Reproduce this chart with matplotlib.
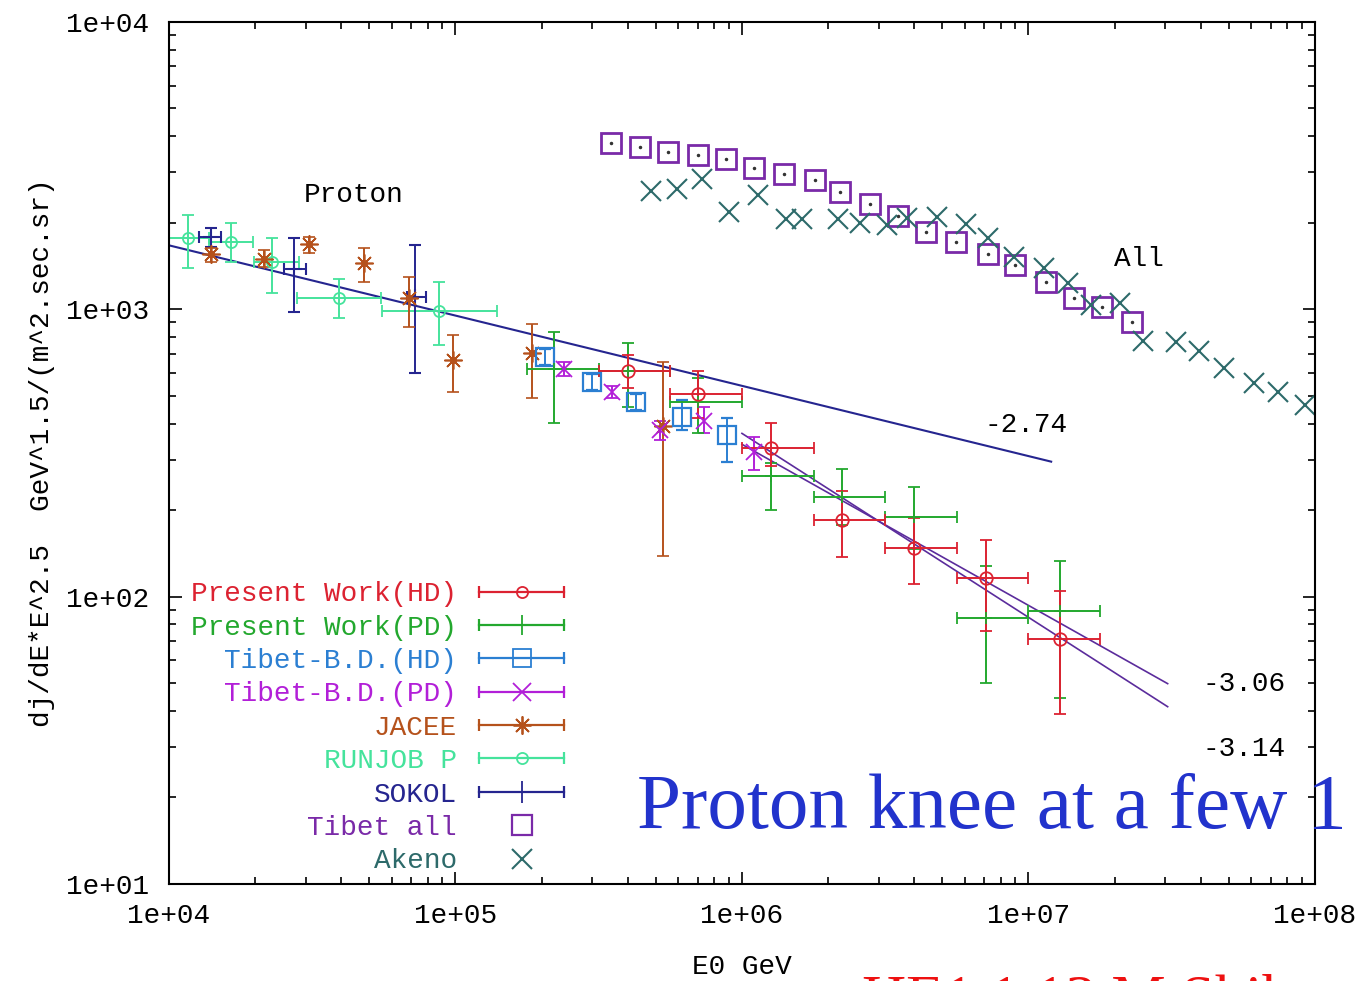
import matplotlib
matplotlib.use("Agg")
import matplotlib.pyplot as plt
import numpy as np
from matplotlib.lines import Line2D
from matplotlib.legend_handler import HandlerBase
from matplotlib.ticker import FuncFormatter, LogLocator, NullFormatter

# Present Work (HD)
hd_e = [4.0e5, 7.0e5, 1.26e6, 2.24e6, 4.0e6, 7.1e6, 1.29e7]
hd_e_lo = [3.16e5, 5.62e5, 1.0e6, 1.78e6, 3.16e6, 5.62e6, 1.0e7]
hd_e_hi = [5.62e5, 1.0e6, 1.78e6, 3.16e6, 5.62e6, 1.0e7, 1.78e7]
hd_f = [608, 509, 330, 185, 148, 116, 71.5]
hd_lo = [531, 417, 286, 137, 111, 76, 39]
hd_hi = [692, 612, 401, 234, 188, 157, 105]

# Present Work (PD)
pd_e = [2.2e5, 4.0e5, 7.0e5, 1.26e6, 2.24e6, 4.0e6, 7.1e6, 1.29e7]
pd_e_lo = [1.78e5, 3.16e5, 5.62e5, 1.0e6, 1.78e6, 3.16e6, 5.62e6, 1.0e7]
pd_e_hi = [3.16e5, 5.62e5, 1.0e6, 1.78e6, 3.16e6, 5.62e6, 1.0e7, 1.78e7]
pd_f = [618, 612, 474, 264, 223, 190, 84.5, 89]
pd_lo = [403, 456, 372, 200, 177, 147, 50, 44.5]
pd_hi = [832, 762, 575, 291, 279, 240, 128, 133]

# Tibet-B.D. (HD) and (PD)
bdh_e = [2.05e5, 2.99e5, 4.26e5, 6.17e5, 8.87e5]
bdh_f = [681, 557, 475, 421, 364]
bdh_lo = [638, 522, 445, 379, 293]
bdh_hi = [727, 594, 506, 482, 417]

bdp_e = [2.39e5, 3.51e5, 5.17e5, 7.36e5, 1.10e6]
bdp_f = [618, 514, 379, 410, 318]
bdp_lo = [585, 490, 350, 372, 275]
bdp_hi = [653, 540, 410, 456, 358]

# JACEE
jac_e = [1.40e4, 2.15e4, 3.09e4, 4.81e4, 6.90e4, 9.77e4, 1.85e5, 5.30e5]
jac_f = [1556, 1494, 1684, 1446, 1092, 664, 703, 391]
jac_lo = [1459, 1400, 1567, 1242, 865, 514, 493, 139]
jac_hi = [1633, 1606, 1782, 1633, 1291, 811, 887, 653]

# RUNJOB P
run_e = [1.17e4, 1.65e4, 2.29e4, 3.93e4, 8.73e4]
run_e_lo = [9.0e3, 1.38e4, 1.98e4, 2.81e4, 5.56e4]
run_e_hi = [1.38e4, 1.97e4, 2.85e4, 5.51e4, 1.40e5]
run_f = [1767, 1711, 1459, 1092, 984]
run_lo = [1389, 1459, 1138, 931, 750]
run_hi = [2128, 1995, 1767, 1273, 1242]

# SOKOL
sok_e = [1.40e4, 2.73e4, 7.24e4]
sok_e_lo = [1.27e4, 2.52e4, 6.75e4]
sok_e_hi = [1.52e4, 3.01e4, 7.92e4]
sok_f = [1782, 1377, 1102]
sok_lo = [1644, 977, 598]
sok_hi = [1914, 1767, 1671]

# Tibet all-particle
tib_e = [3.5e5, 4.4e5, 5.5e5, 7.0e5, 8.8e5, 1.1e6, 1.4e6, 1.8e6, 2.2e6, 2.8e6,
         3.5e6, 4.4e6, 5.6e6, 7.2e6, 9.0e6, 1.15e7, 1.44e7, 1.8e7, 2.3e7]
tib_f = [3790, 3660, 3520, 3440, 3330, 3100, 2950, 2810, 2560, 2320,
         2110, 1855, 1711, 1555, 1423, 1242, 1092, 1016, 901]

# Akeno all-particle
ake_e = [4.81e5, 5.93e5, 7.25e5, 9.0e5, 1.14e6, 1.43e6, 1.62e6, 2.17e6, 2.59e6,
         3.21e6, 3.78e6, 4.81e6, 6.03e6, 7.25e6, 8.93e6, 1.13e7, 1.37e7, 1.65e7,
         2.08e7, 2.50e7, 3.27e7, 3.93e7, 4.81e7, 6.12e7, 7.43e7, 9.22e7]
ake_f = [2576, 2618, 2838, 2178, 2495, 2061, 2061, 2061, 1995,
         1963, 2077, 2093, 1978, 1767, 1517, 1389, 1233, 1033,
         1049, 774, 768, 714, 623, 552, 514, 463]

# power-law fits (end points)
fit274_e, fit274_f = [1.0e4, 1.2e7], [1670, 295]
fit306_e, fit306_f = [1.0e6, 3.06e7], [339, 49.8]
fit314_e, fit314_f = [1.0e6, 3.06e7], [370, 41.4]

MONO = "Liberation Mono"
FS = 20

C_HD = "#dc2231"
C_PD = "#23a82e"
C_BDH = "#2b7fd2"
C_BDP = "#b21fd8"
C_JAC = "#b5521c"
C_RUN = "#45e39c"
C_SOK = "#25258f"
C_TIB = "#7a2aa8"
C_AKE = "#2d6a6a"
C_FIT = "#5b2c9c"


def err_series(ax, e, f, lo, hi, e_lo=None, e_hi=None, **kw):
    e, f = np.array(e), np.array(f)
    yerr = [f - np.array(lo), np.array(hi) - f]
    xerr = None
    if e_lo is not None:
        xerr = [e - np.array(e_lo), np.array(e_hi) - e]
    return ax.errorbar(e, f, yerr=yerr, xerr=xerr, capsize=4, elinewidth=1.4,
                       capthick=1.4, ls="none", **kw)


class CapLineHandler(HandlerBase):
    " Legend sample: horizontal bar with end caps and the marker in the middle. "

    def create_artists(self, legend, orig, xdescent, ydescent, width, height,
                       fontsize, trans):
        c = orig.get_color()
        y = height / 2 - ydescent
        x0, x1 = -xdescent, width - xdescent
        bar = Line2D([x0, x1], [y, y], color=c, lw=1.6)
        caps = Line2D([x0, x1], [y, y], color=c, ls="none", marker="|",
                      ms=9, mew=1.6)
        mk = Line2D([(x0 + x1) / 2], [y], color=c, ls="none",
                    marker=orig.get_marker(), ms=orig.get_markersize(),
                    mfc=orig.get_markerfacecolor(), mew=1.3)
        for a in (bar, caps, mk):
            a.set_transform(trans)
        return [bar, caps, mk]


fig = plt.figure(figsize=(13.62, 9.81), dpi=100)
ax = fig.add_axes([0.124, 0.0989, 0.8415, 0.8787])
ax.set_xscale("log")
ax.set_yscale("log")
ax.set_xlim(1e4, 1e8)
ax.set_ylim(1e1, 1e4)

ax.plot(fit274_e, fit274_f, color=C_SOK, lw=1.5)
ax.plot(fit306_e, fit306_f, color=C_FIT, lw=1.2)
ax.plot(fit314_e, fit314_f, color=C_FIT, lw=1.2)

err_series(ax, run_e, run_f, run_lo, run_hi, run_e_lo, run_e_hi,
           color=C_RUN, marker="o", ms=8, mfc="none", mew=1.3)
err_series(ax, sok_e, sok_f, sok_lo, sok_hi, sok_e_lo, sok_e_hi,
           color=C_SOK, marker="+", ms=12, mew=1.5)
err_series(ax, jac_e, jac_f, jac_lo, jac_hi,
           color=C_JAC, marker=(8, 2, 0), ms=13, mew=1.2)
ax.plot(jac_e, jac_f, ls="none", marker="o", ms=4, color="#d23010")
err_series(ax, bdh_e, bdh_f, bdh_lo, bdh_hi,
           color=C_BDH, marker="s", ms=13, mfc="none", mew=1.6)
err_series(ax, bdp_e, bdp_f, bdp_lo, bdp_hi,
           color=C_BDP, marker="x", ms=11, mew=1.3)
err_series(ax, pd_e, pd_f, pd_lo, pd_hi, pd_e_lo, pd_e_hi,
           color=C_PD, marker="+", ms=8, mew=1.3)
err_series(ax, hd_e, hd_f, hd_lo, hd_hi, hd_e_lo, hd_e_hi,
           color=C_HD, marker="o", ms=9, mfc="none", mew=1.3)

ax.plot(tib_e, tib_f, ls="none", marker="s", ms=14, mfc="none", mew=2.0,
        color=C_TIB)
ax.plot(tib_e, tib_f, ls="none", marker=".", ms=3, color="#333333")
ax.plot(ake_e, ake_f, ls="none", marker="x", ms=15, mew=1.5, color=C_AKE)

# annotations
ax.text(4.43e4, 2496, "Proton", family=MONO, fontsize=FS, ha="center", va="center")
ax.text(2.43e7, 1493, "All", family=MONO, fontsize=FS, ha="center", va="center")
ax.text(9.8e6, 397, "-2.74", family=MONO, fontsize=FS, ha="center", va="center")
ax.text(5.65e7, 49.8, "-3.06", family=MONO, fontsize=FS, ha="center", va="center")
ax.text(5.65e7, 29.5, "-3.14", family=MONO, fontsize=FS, ha="center", va="center")

# legend
entries = [
    ("Present Work(HD)", C_HD, "o", 8, "none"),
    ("Present Work(PD)", C_PD, "+", 14, C_PD),
    ("Tibet-B.D.(HD)", C_BDH, "s", 13, "none"),
    ("Tibet-B.D.(PD)", C_BDP, "x", 13, C_BDP),
    ("JACEE", C_JAC, (8, 2, 0), 13, C_JAC),
    ("RUNJOB P", C_RUN, "o", 8, "none"),
    ("SOKOL", C_SOK, "+", 16, C_SOK),
]
handles, labels, colors = [], [], []
hmap = {}
for lab, c, m, s, fc in entries:
    h = Line2D([], [], color=c, marker=m, ms=s, mfc=fc)
    hmap[h] = CapLineHandler()
    handles.append(h)
    labels.append(lab)
    colors.append(c)
handles.append(Line2D([], [], ls="none", color=C_TIB, marker="s", ms=14,
                      mfc="none", mew=1.6))
labels.append("Tibet all")
colors.append(C_TIB)
handles.append(Line2D([], [], ls="none", color=C_AKE, marker="x", ms=15,
                      mew=1.5))
labels.append("Akeno")
colors.append(C_AKE)

leg = ax.legend(handles, labels, handler_map=hmap, loc="upper right",
                bbox_to_anchor=(0.345, 0.351), markerfirst=False, frameon=False,
                handlelength=3.06, handletextpad=0.8, labelspacing=0.265,
                borderpad=0, borderaxespad=0,
                prop={"family": MONO, "size": FS})
for t, c in zip(leg.get_texts(), colors):
    t.set_color(c)

# axes styling
for sp in ax.spines.values():
    sp.set_linewidth(1.5)
ax.xaxis.set_major_locator(LogLocator(base=10, numticks=10))
ax.yaxis.set_major_locator(LogLocator(base=10, numticks=10))
ax.xaxis.set_minor_locator(LogLocator(base=10, subs=np.arange(2, 10), numticks=20))
ax.yaxis.set_minor_locator(LogLocator(base=10, subs=np.arange(2, 10), numticks=20))
sci = FuncFormatter(lambda v, p: f"{v:.0e}")
ax.xaxis.set_major_formatter(sci)
ax.yaxis.set_major_formatter(sci)
ax.xaxis.set_minor_formatter(NullFormatter())
ax.yaxis.set_minor_formatter(NullFormatter())
ax.tick_params(which="both", direction="in", top=True, right=True, width=1.2)
ax.tick_params(which="major", length=9, pad=14, labelsize=FS)
ax.tick_params(which="minor", length=5)
for lab in ax.get_xticklabels() + ax.get_yticklabels():
    lab.set_family(MONO)

ax.set_xlabel("E0 GeV", family=MONO, fontsize=FS, labelpad=18)
ax.set_ylabel("dj/dE*E^2.5  GeV^1.5/(m^2.sec.sr)", family=MONO, fontsize=FS,
              labelpad=8)

fig.text(0.4677, 0.156, "Proton knee at a few 1", family="Liberation Serif",
         fontsize=57, color="#2233cc", va="baseline")
fig.text(0.633, -0.036, "HE1.1.13 M.Shibata", family="Liberation Serif",
         fontsize=44, color="#ee1111", va="baseline")

fig.savefig("out.png", dpi=100)
